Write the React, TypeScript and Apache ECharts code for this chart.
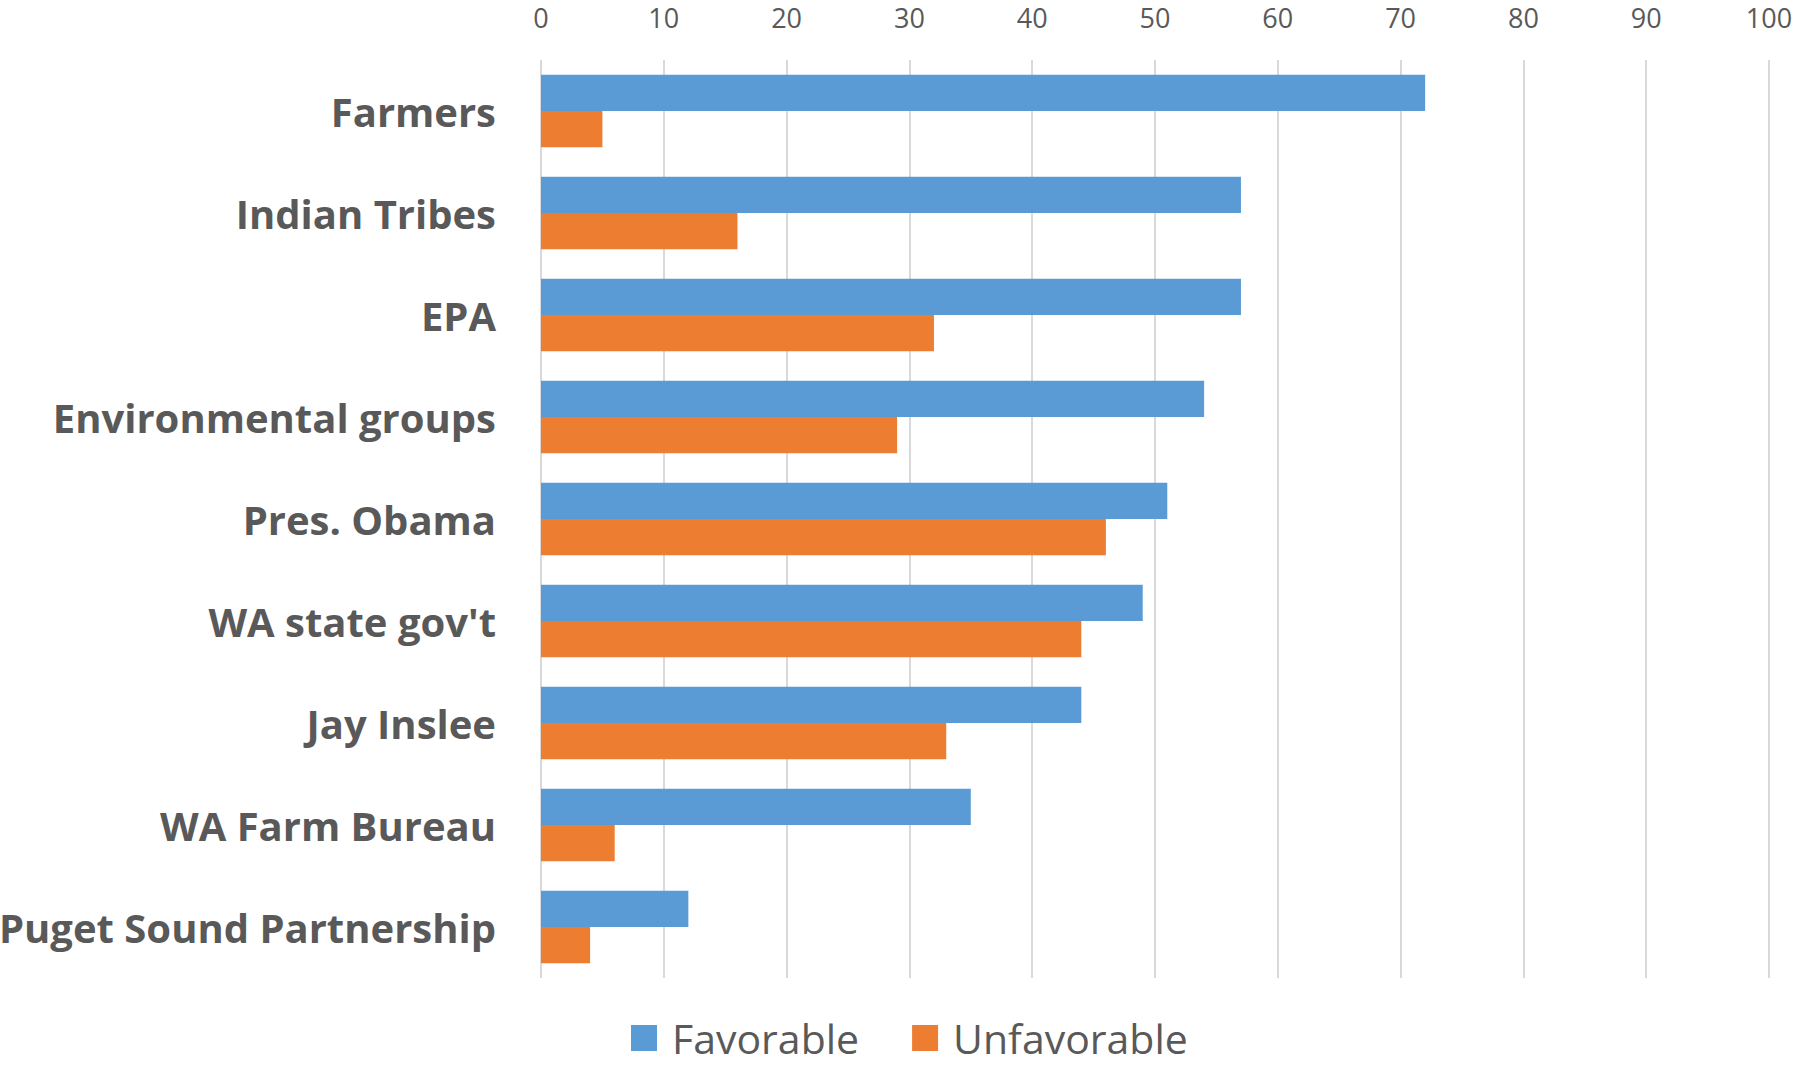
import React, { useEffect, useRef } from "react";
import * as echarts from "echarts";

const categories = [
  "Farmers",
  "Indian Tribes",
  "EPA",
  "Environmental groups",
  "Pres. Obama",
  "WA state gov't",
  "Jay Inslee",
  "WA Farm Bureau",
  "Puget Sound Partnership",
];
const favorable = [72, 57, 57, 54, 51, 49, 44, 35, 12];
const unfavorable = [5, 16, 32, 29, 46, 44, 33, 6, 4];

export default function App() {
  const ref = useRef<HTMLDivElement>(null);
  useEffect(() => {
    if (!ref.current) return;
    const chart = echarts.init(ref.current, undefined, { renderer: "svg" });
    chart.setOption({
      animation: false,
      backgroundColor: "#ffffff",
      grid: { left: 541, right: 27, top: 60, bottom: 88, outerBoundsMode: "none", containLabel: false },
      legend: {
        left: 631,
        top: 1017,
        padding: 0,
        itemWidth: 26,
        itemHeight: 26,
        itemGap: 53,
        icon: "rect",
        textStyle: {
          fontSize: 41,
          color: "#595959",
          fontFamily: "Open Sans",
          lineHeight: 42,
          padding: [0, 0, 0, 10],
        },
        data: ["Favorable", "Unfavorable"],
      },
      xAxis: {
        type: "value",
        position: "top",
        min: 0,
        max: 100,
        interval: 10,
        axisLine: { show: false },
        axisTick: { show: false },
        axisLabel: { fontSize: 27, color: "#595959", fontFamily: "Open Sans", margin: 29 },
        splitLine: { show: true, lineStyle: { color: "#d9d9d9", width: 2 } },
      },
      yAxis: {
        type: "category",
        inverse: true,
        data: categories,
        axisLine: { show: false },
        axisTick: { show: false },
        axisLabel: {
          fontSize: 40,
          fontWeight: "bold",
          color: "#595959",
          fontFamily: "Open Sans",
          margin: 45,
        },
      },
      series: [
        {
          name: "Favorable",
          type: "bar",
          data: favorable,
          itemStyle: { color: "#5B9BD5" },
          barGap: "0%",
          barCategoryGap: "29%",
        },
        {
          name: "Unfavorable",
          type: "bar",
          data: unfavorable,
          itemStyle: { color: "#ED7D31" },
          barGap: "0%",
          barCategoryGap: "29%",
        },
      ],
    });
    return () => chart.dispose();
  }, []);
  return (
    <div
      ref={ref}
      style={{ position: "absolute", left: 0, top: 0, width: 1796, height: 1066 }}
    />
  );
}
